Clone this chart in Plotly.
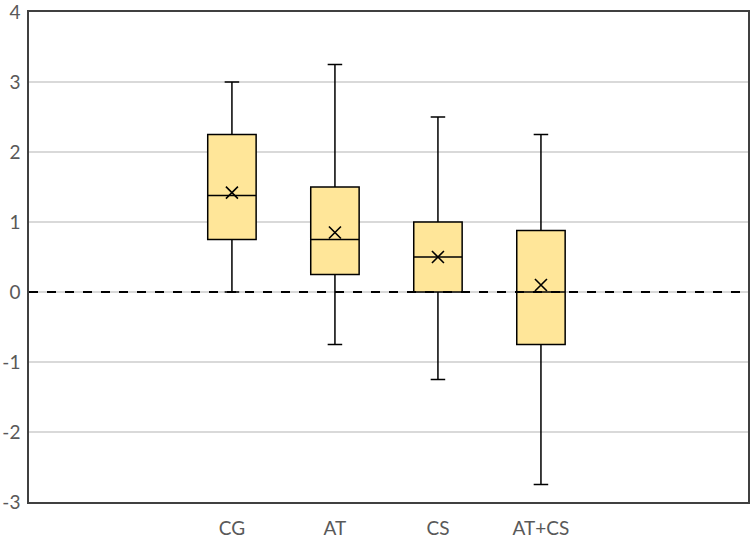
import plotly.graph_objects as go

categories = ["CG", "AT", "CS", "AT+CS"]
q1 = [0.75, 0.25, 0.0, -0.75]
median = [1.38, 0.75, 0.5, 0.0]
q3 = [2.25, 1.5, 1.0, 0.88]
lower = [0.0, -0.75, -1.25, -2.75]
upper = [3.0, 3.25, 2.5, 2.25]
means = [1.42, 0.85, 0.5, 0.1]
y_ticks = [-3, -2, -1, 0, 1, 2, 3, 4]
y_tick_text = ["-3", "-2", "-1", "0", "1", "2", "3", "4"]
ref_line = 0

fig = go.Figure()
fig.add_trace(go.Box(
    x=categories, q1=q1, median=median, q3=q3,
    lowerfence=lower, upperfence=upper,
    fillcolor="#FFE699", line=dict(color="black", width=1.5),
    width=0.47, whiskerwidth=0.3, boxpoints=False, showlegend=False,
    hoverinfo="skip",
))
fig.add_trace(go.Scatter(
    x=categories, y=means, mode="markers",
    marker=dict(symbol="x-thin", size=12, line=dict(color="black", width=1.6)),
    showlegend=False,
))
fig.add_shape(type="line", xref="paper", x0=0, x1=1, yref="y", y0=ref_line, y1=ref_line,
              line=dict(color="black", width=2, dash="dash"), layer="above")

font_family = "Lato, sans-serif"
fig.update_layout(
    width=750, height=539,
    margin=dict(l=29, r=2, t=12, b=37),
    paper_bgcolor="white", plot_bgcolor="white",
    font=dict(family=font_family, size=19, color="#595959"),
    xaxis=dict(type="category", range=[-1.97, 5.01], showgrid=False,
               showline=True, mirror=True, linecolor="#404040", linewidth=1.5,
               ticks="", ticklabelstandoff=8, ticklabeloverflow="allow",
               automargin=False,
               tickfont=dict(size=19, color="#595959")),
    yaxis=dict(range=[-3, 4], tickvals=y_ticks, ticktext=y_tick_text,
               showgrid=True, gridcolor="#d9d9d9",
               gridwidth=1.5, zeroline=False, showline=True, mirror=True,
               linecolor="#404040", linewidth=1.5, ticks="",
               ticklabeloverflow="allow", ticklabelstandoff=3,
               automargin=False,
               tickfont=dict(size=19, color="#595959")),
)
fig.write_html("out.html")
